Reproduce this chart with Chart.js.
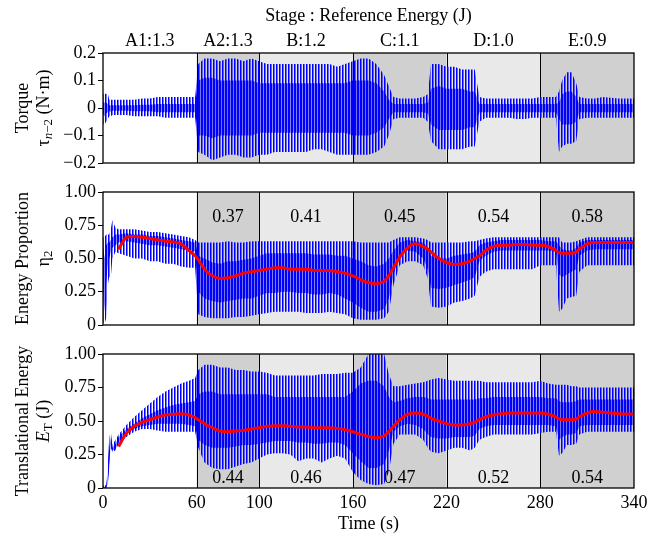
<!DOCTYPE html>
<html>
<head>
<meta charset="utf-8">
<script src="https://cdn.jsdelivr.net/npm/chart.js@4.4.1/dist/chart.umd.min.js"></script>
<style>
  html, body { margin: 0; padding: 0; background: #fff; }
  #wrap { position: relative; width: 665px; height: 538px; }
  #wrap canvas { position: absolute; left: 0; top: 0; }
</style>
</head>
<body>
<div id="wrap">
  <canvas id="torque" width="665" height="538"></canvas>
  <canvas id="proportion" width="665" height="538"></canvas>
  <canvas id="energy" width="665" height="538"></canvas>
</div>
<script>
// stages
const stageEdges = [0, 60, 100, 160, 220, 280, 340];
const stageLabels = ["A1:1.3", "A2:1.3", "B:1.2", "C:1.1", "D:1.0", "E:0.9"];
const stageShade = [null, "#d0d0d0", "#e9e9e9", "#d0d0d0", "#e9e9e9", "#d0d0d0"];
const propLabels = [null, "0.37", "0.41", "0.45", "0.54", "0.58"];
const energyLabels = [null, "0.44", "0.46", "0.47", "0.52", "0.54"];
const timeTicks = [0, 60, 100, 160, 220, 280, 340];

// sample times (s) for the envelopes
const time = [
  0, 1, 2, 3, 4, 5, 6, 8,
  10, 15, 20, 25, 30, 35, 40, 45, 50, 55, 59,
  61, 65, 70, 75, 80, 85, 90, 95, 100,
  105, 110, 115, 120, 125, 130, 135, 140, 145, 150, 155, 160,
  165, 170, 175, 180, 183, 186, 190, 195, 200, 205,
  208, 210, 215, 220, 225, 230, 235, 238, 241, 245,
  250, 255, 260, 265, 270, 275, 280, 285, 290, 292,
  294, 297, 300, 303, 305, 310, 315, 320, 330, 340
];

// torque: spike tops / bottoms and the dense core
const torqueHi = [
  0.05, 0.055, 0.05, 0.055, 0.03, 0.03, 0.03, 0.03,
  0.03, 0.03, 0.03, 0.035, 0.035, 0.04, 0.04, 0.04, 0.04, 0.04, 0.04,
  0.16, 0.18, 0.18, 0.17, 0.18, 0.18, 0.17, 0.18, 0.17,
  0.16, 0.16, 0.16, 0.16, 0.16, 0.16, 0.16, 0.16, 0.16, 0.15, 0.16, 0.17,
  0.18, 0.18, 0.16, 0.12, 0.08, 0.04, 0.035, 0.035, 0.035, 0.04,
  0.05, 0.16, 0.16, 0.15, 0.15, 0.14, 0.14, 0.14, 0.04, 0.035,
  0.035, 0.035, 0.035, 0.035, 0.035, 0.035, 0.04, 0.04, 0.04, 0.06,
  0.10, 0.13, 0.13, 0.09, 0.04, 0.035, 0.035, 0.04, 0.035, 0.035
];
const torqueLo = [
  -0.06, -0.06, -0.05, -0.04, -0.03, -0.03, -0.025, -0.025,
  -0.025, -0.025, -0.03, -0.03, -0.03, -0.03, -0.035, -0.035, -0.035, -0.035, -0.035,
  -0.16, -0.17, -0.19, -0.18, -0.17, -0.17, -0.18, -0.18, -0.17,
  -0.17, -0.16, -0.16, -0.16, -0.16, -0.16, -0.15, -0.15, -0.16, -0.17, -0.17, -0.17,
  -0.17, -0.17, -0.16, -0.14, -0.10, -0.04, -0.035, -0.035, -0.035, -0.035,
  -0.05, -0.12, -0.15, -0.15, -0.15, -0.15, -0.14, -0.14, -0.05, -0.035,
  -0.035, -0.035, -0.035, -0.04, -0.04, -0.035, -0.035, -0.035, -0.035, -0.16,
  -0.14, -0.13, -0.13, -0.12, -0.04, -0.035, -0.035, -0.035, -0.035, -0.035
];
const torqueCoreHi = [
  0.02, 0.02, 0.02, 0.015, 0.01, 0.01, 0.01, 0.01,
  0.01, 0.01, 0.01, 0.012, 0.012, 0.015, 0.015, 0.015, 0.015, 0.015, 0.015,
  0.10, 0.11, 0.11, 0.10, 0.10, 0.10, 0.10, 0.10, 0.09,
  0.09, 0.09, 0.09, 0.09, 0.09, 0.09, 0.09, 0.09, 0.09, 0.09, 0.09, 0.10,
  0.10, 0.10, 0.09, 0.06, 0.03, 0.015, 0.015, 0.015, 0.015, 0.015,
  0.02, 0.07, 0.08, 0.07, 0.07, 0.07, 0.06, 0.06, 0.015, 0.015,
  0.015, 0.015, 0.015, 0.015, 0.015, 0.015, 0.015, 0.015, 0.015, 0.02,
  0.05, 0.06, 0.06, 0.04, 0.015, 0.015, 0.015, 0.015, 0.015, 0.015
];
const torqueCoreLo = [
  -0.02, -0.03, -0.02, -0.015, -0.01, -0.015, -0.01, -0.01,
  -0.01, -0.01, -0.012, -0.012, -0.012, -0.015, -0.015, -0.015, -0.015, -0.015, -0.015,
  -0.10, -0.10, -0.11, -0.10, -0.10, -0.10, -0.10, -0.10, -0.09,
  -0.09, -0.09, -0.09, -0.09, -0.09, -0.09, -0.09, -0.09, -0.09, -0.09, -0.09, -0.10,
  -0.10, -0.10, -0.09, -0.07, -0.04, -0.015, -0.015, -0.015, -0.015, -0.015,
  -0.02, -0.06, -0.08, -0.08, -0.08, -0.08, -0.07, -0.07, -0.015, -0.015,
  -0.015, -0.015, -0.015, -0.015, -0.015, -0.015, -0.015, -0.015, -0.015, -0.04,
  -0.06, -0.06, -0.06, -0.05, -0.015, -0.015, -0.015, -0.015, -0.015, -0.015
];

// energy proportion eta_2
const propHi = [
  0.66, 0.66, 0.68, 0.68, 0.68, 0.72, 0.79, 0.73,
  0.72, 0.72, 0.72, 0.71, 0.70, 0.70, 0.69, 0.68, 0.67, 0.66, 0.64,
  0.62, 0.62, 0.62, 0.62, 0.63, 0.62, 0.62, 0.63, 0.63,
  0.63, 0.63, 0.63, 0.63, 0.63, 0.63, 0.63, 0.63, 0.63, 0.63, 0.63, 0.63,
  0.62, 0.62, 0.62, 0.62, 0.62, 0.64, 0.66, 0.66, 0.66, 0.65,
  0.64, 0.62, 0.62, 0.62, 0.62, 0.62, 0.63, 0.63, 0.64, 0.65,
  0.66, 0.66, 0.66, 0.66, 0.66, 0.66, 0.66, 0.66, 0.66, 0.66,
  0.62, 0.62, 0.62, 0.63, 0.64, 0.66, 0.66, 0.66, 0.66, 0.66
];
const propLo = [
  0.02, 0.01, 0.05, 0.30, 0.36, 0.36, 0.50, 0.55,
  0.54, 0.52, 0.50, 0.50, 0.48, 0.48, 0.46, 0.46, 0.44, 0.43, 0.43,
  0.08, 0.06, 0.05, 0.05, 0.05, 0.06, 0.06, 0.07, 0.08,
  0.09, 0.10, 0.10, 0.10, 0.10, 0.09, 0.09, 0.09, 0.10, 0.09, 0.08, 0.05,
  0.04, 0.04, 0.04, 0.05, 0.10, 0.30, 0.45, 0.48, 0.48, 0.45,
  0.35, 0.14, 0.13, 0.14, 0.17, 0.18, 0.20, 0.22, 0.36, 0.40,
  0.42, 0.42, 0.42, 0.42, 0.42, 0.42, 0.45, 0.45, 0.45, 0.10,
  0.12, 0.20, 0.21, 0.22, 0.40, 0.45, 0.45, 0.45, 0.45, 0.45
];
const propCoreHi = [
  0.60, 0.50, 0.60, 0.62, 0.62, 0.64, 0.66, 0.68,
  0.68, 0.69, 0.68, 0.68, 0.67, 0.67, 0.66, 0.65, 0.64, 0.63, 0.62,
  0.52, 0.50, 0.47, 0.46, 0.48, 0.48, 0.49, 0.50, 0.52,
  0.54, 0.54, 0.54, 0.54, 0.54, 0.54, 0.53, 0.53, 0.53, 0.52, 0.52, 0.50,
  0.48, 0.45, 0.44, 0.46, 0.50, 0.56, 0.62, 0.64, 0.63, 0.62,
  0.58, 0.52, 0.50, 0.50, 0.52, 0.53, 0.54, 0.55, 0.60, 0.62,
  0.63, 0.64, 0.64, 0.64, 0.64, 0.64, 0.64, 0.63, 0.63, 0.60,
  0.57, 0.56, 0.56, 0.58, 0.62, 0.64, 0.64, 0.64, 0.64, 0.64
];
const propCoreLo = [
  0.30, 0.10, 0.30, 0.45, 0.50, 0.55, 0.58, 0.60,
  0.62, 0.63, 0.62, 0.61, 0.60, 0.60, 0.59, 0.58, 0.57, 0.56, 0.55,
  0.25, 0.20, 0.18, 0.17, 0.18, 0.19, 0.20, 0.20, 0.22,
  0.24, 0.24, 0.25, 0.25, 0.24, 0.24, 0.23, 0.23, 0.24, 0.23, 0.20, 0.17,
  0.13, 0.10, 0.10, 0.12, 0.20, 0.38, 0.52, 0.56, 0.55, 0.50,
  0.42, 0.28, 0.27, 0.28, 0.30, 0.32, 0.34, 0.36, 0.48, 0.52,
  0.55, 0.56, 0.56, 0.56, 0.56, 0.56, 0.56, 0.56, 0.55, 0.38,
  0.36, 0.38, 0.40, 0.42, 0.52, 0.56, 0.57, 0.57, 0.57, 0.57
];
const propMean = [
  null, null, null, null, null, null, null, null,
  0.57, 0.66, 0.665, 0.66, 0.65, 0.64, 0.63, 0.625, 0.61, 0.56, 0.52,
  0.49, 0.42, 0.37, 0.35, 0.355, 0.37, 0.39, 0.40, 0.41,
  0.42, 0.43, 0.43, 0.42, 0.42, 0.42, 0.41, 0.41, 0.41, 0.40, 0.39, 0.37,
  0.34, 0.32, 0.31, 0.33, 0.37, 0.43, 0.51, 0.58, 0.61, 0.59,
  0.57, 0.55, 0.50, 0.47, 0.455, 0.46, 0.48, 0.50, 0.52, 0.56,
  0.59, 0.60, 0.60, 0.605, 0.605, 0.60, 0.60, 0.59, 0.56, 0.545,
  0.54, 0.54, 0.54, 0.55, 0.57, 0.61, 0.62, 0.62, 0.62, 0.62
];

// translational energy E_T (J)
const energyHi = [
  0.02, 0.02, 0.02, 0.15, 0.38, 0.42, 0.32, 0.36,
  0.40, 0.47, 0.53, 0.58, 0.63, 0.68, 0.72, 0.75, 0.78, 0.80, 0.82,
  0.88, 0.92, 0.92, 0.90, 0.90, 0.88, 0.88, 0.87, 0.87,
  0.86, 0.84, 0.84, 0.84, 0.84, 0.84, 0.84, 0.85, 0.85, 0.85, 0.86, 0.86,
  0.90, 1.00, 1.00, 1.00, 0.85, 0.76, 0.76, 0.77, 0.78, 0.79,
  0.80, 0.81, 0.82, 0.81, 0.80, 0.80, 0.80, 0.80, 0.80, 0.79,
  0.79, 0.79, 0.79, 0.79, 0.79, 0.79, 0.80, 0.78, 0.77, 0.77,
  0.77, 0.77, 0.76, 0.76, 0.75, 0.75, 0.75, 0.75, 0.75, 0.75
];
const energyLo = [
  0.00, 0.00, 0.00, 0.02, 0.15, 0.30, 0.27, 0.28,
  0.33, 0.38, 0.42, 0.44, 0.44, 0.43, 0.42, 0.42, 0.42, 0.42, 0.42,
  0.30, 0.19, 0.15, 0.14, 0.14, 0.16, 0.18, 0.19, 0.22,
  0.25, 0.26, 0.26, 0.25, 0.20, 0.22, 0.22, 0.19, 0.22, 0.24, 0.22, 0.12,
  0.06, 0.03, 0.02, 0.03, 0.12, 0.33, 0.40, 0.40, 0.40, 0.36,
  0.30, 0.27, 0.26, 0.28, 0.30, 0.30, 0.28, 0.30, 0.36, 0.38,
  0.40, 0.40, 0.40, 0.40, 0.40, 0.40, 0.41, 0.42, 0.42, 0.24,
  0.26, 0.32, 0.32, 0.33, 0.40, 0.42, 0.42, 0.42, 0.42, 0.42
];
const energyCoreHi = [
  0.01, 0.01, 0.01, 0.10, 0.30, 0.38, 0.30, 0.33,
  0.38, 0.44, 0.48, 0.52, 0.55, 0.58, 0.60, 0.62, 0.63, 0.64, 0.65,
  0.70, 0.72, 0.72, 0.70, 0.70, 0.70, 0.70, 0.70, 0.70,
  0.70, 0.68, 0.68, 0.68, 0.68, 0.68, 0.68, 0.68, 0.68, 0.68, 0.68, 0.72,
  0.78, 0.80, 0.80, 0.76, 0.68, 0.64, 0.65, 0.67, 0.68, 0.68,
  0.67, 0.66, 0.66, 0.66, 0.66, 0.66, 0.66, 0.66, 0.67, 0.67,
  0.68, 0.68, 0.68, 0.68, 0.68, 0.68, 0.68, 0.67, 0.67, 0.65,
  0.64, 0.64, 0.64, 0.65, 0.66, 0.66, 0.66, 0.66, 0.66, 0.66
];
const energyCoreLo = [
  0.00, 0.00, 0.00, 0.03, 0.20, 0.32, 0.28, 0.29,
  0.34, 0.40, 0.44, 0.46, 0.47, 0.48, 0.48, 0.48, 0.48, 0.47, 0.46,
  0.36, 0.32, 0.30, 0.30, 0.30, 0.31, 0.32, 0.32, 0.33,
  0.34, 0.35, 0.35, 0.35, 0.34, 0.34, 0.33, 0.33, 0.34, 0.34, 0.32, 0.26,
  0.20, 0.15, 0.15, 0.18, 0.28, 0.42, 0.46, 0.48, 0.47, 0.44,
  0.40, 0.38, 0.37, 0.37, 0.38, 0.38, 0.38, 0.39, 0.44, 0.46,
  0.47, 0.47, 0.47, 0.47, 0.47, 0.47, 0.47, 0.47, 0.46, 0.36,
  0.38, 0.40, 0.40, 0.41, 0.46, 0.47, 0.47, 0.47, 0.47, 0.47
];
const energyMean = [
  null, null, null, null, null, null, null, null,
  0.31, 0.41, 0.46, 0.49, 0.51, 0.53, 0.545, 0.55, 0.555, 0.545, 0.525,
  0.51, 0.48, 0.45, 0.425, 0.42, 0.425, 0.43, 0.44, 0.45,
  0.46, 0.465, 0.465, 0.46, 0.455, 0.455, 0.45, 0.45, 0.45, 0.445, 0.435, 0.42,
  0.40, 0.385, 0.375, 0.39, 0.42, 0.46, 0.51, 0.55, 0.56, 0.55,
  0.535, 0.52, 0.50, 0.48, 0.47, 0.47, 0.48, 0.49, 0.51, 0.53,
  0.545, 0.555, 0.56, 0.56, 0.56, 0.56, 0.56, 0.55, 0.53, 0.515,
  0.51, 0.51, 0.51, 0.515, 0.53, 0.56, 0.57, 0.565, 0.555, 0.55
];

const FONT = "'Liberation Serif', 'Times New Roman', serif";
const font18 = { family: FONT, size: 18 };
const stageMid = stageEdges.slice(0, -1).map((t, i) => (t + stageEdges[i + 1]) / 2);

Chart.defaults.font.family = FONT;
Chart.defaults.color = "#000";

// vertical-stripe fills give the spiky look of the oscillation
function stripes(alphas) {
  const c = document.createElement("canvas");
  c.width = alphas.length; c.height = 1;
  const g = c.getContext("2d");
  alphas.forEach((a, i) => {
    g.fillStyle = `rgba(0,0,255,${a})`;
    g.fillRect(i, 0, 1, 1);
  });
  return g.createPattern(c, "repeat");
}
const spike = stripes([1, 0.55, 0]);
const dense = stripes([1, 1, 0.45]);

const pts = arr => time.map((t, i) => ({ x: t, y: arr[i] })).filter(p => p.y !== null);

function bandSets(hi, lo, cHi, cLo, mean) {
  const base = { pointRadius: 0, borderWidth: 0, tension: 0 };
  const sets = [
    { ...base, data: pts(lo), fill: false, order: 5 },
    { ...base, data: pts(hi), fill: 0, backgroundColor: spike, order: 4 },
    { ...base, data: pts(cLo), fill: false, order: 3 },
    { ...base, data: pts(cHi), fill: 2, backgroundColor: dense, order: 2 }
  ];
  if (mean) {
    sets.push({ data: pts(mean), fill: false, borderColor: "#ff0000", borderWidth: 3,
      pointRadius: 0, cubicInterpolationMode: "monotone", order: 1 });
  }
  return sets;
}

// draws one rotated title line made of plain / italic / subscript parts
function richLine(ctx, parts, cx, cy) {
  const fnt = p => `${p.italic ? "italic " : ""}${p.sub ? 13 : 18}px ${FONT}`;
  let w = 0;
  parts.forEach(p => { ctx.font = fnt(p); w += ctx.measureText(p.t).width; });
  ctx.save();
  ctx.translate(cx, cy);
  ctx.rotate(-Math.PI / 2);
  ctx.textBaseline = "middle";
  ctx.textAlign = "left";
  ctx.fillStyle = "#000";
  let x = -w / 2;
  parts.forEach(p => {
    ctx.font = fnt(p);
    ctx.fillText(p.t, x, p.sub ? 5 : 0);
    x += ctx.measureText(p.t).width;
  });
  ctx.restore();
}

const panel = cfg => ({
  id: "panel",
  beforeDatasetsDraw(chart) {
    const { ctx, chartArea: a, scales: { x } } = chart;
    ctx.save();
    stageShade.forEach((c, i) => {
      if (!c) return;
      const x0 = x.getPixelForValue(stageEdges[i]), x1 = x.getPixelForValue(stageEdges[i + 1]);
      ctx.fillStyle = c;
      ctx.fillRect(x0, a.top, x1 - x0, a.bottom - a.top);
    });
    ctx.strokeStyle = "#000";
    ctx.lineWidth = 1;
    stageEdges.slice(1, -1).forEach(t => {
      const px = Math.round(x.getPixelForValue(t)) + 0.5;
      ctx.beginPath(); ctx.moveTo(px, a.top); ctx.lineTo(px, a.bottom); ctx.stroke();
    });
    ctx.restore();
  },
  afterDatasetsDraw(chart) {
    const { ctx, chartArea: a, scales: { x, y } } = chart;
    ctx.save();
    if (cfg.labels) {
      ctx.font = `18px ${FONT}`;
      ctx.fillStyle = "#000";
      ctx.textAlign = "center";
      ctx.textBaseline = "middle";
      cfg.labels.forEach((s, i) => {
        if (s) ctx.fillText(s, x.getPixelForValue(stageMid[i]), y.getPixelForValue(cfg.labelAt));
      });
    }
    ctx.strokeStyle = "#000";
    ctx.lineWidth = 1.3;
    ctx.strokeRect(a.left, a.top, a.right - a.left, a.bottom - a.top);
    ctx.restore();
  },
  afterDraw(chart) {
    const { ctx, chartArea: a } = chart;
    const cy = (a.top + a.bottom) / 2;
    richLine(ctx, cfg.title1, 23, cy);
    richLine(ctx, cfg.title2, 44, cy);
  }
});

function yAxis(min, max, ticks, fmt) {
  return {
    min, max,
    afterFit: s => { s.width = 103; },
    afterBuildTicks: s => { s.ticks = ticks.map(v => ({ value: v })); },
    ticks: { font: font18, color: "#000", padding: 2, callback: fmt },
    grid: { display: true, drawOnChartArea: false, drawTicks: true, tickLength: 5, color: "#000" },
    border: { display: false }
  };
}

const common = {
  responsive: false,
  animation: false,
  events: [],
  devicePixelRatio: 1
};
const noPlug = { legend: { display: false }, tooltip: { enabled: false } };

// top: torque
new Chart(document.getElementById("torque"), {
  type: "line",
  data: { datasets: bandSets(torqueHi, torqueLo, torqueCoreHi, torqueCoreLo, null) },
  options: {
    ...common,
    layout: { padding: { left: 0, right: 31, top: 0, bottom: 375 } },
    plugins: noPlug,
    scales: {
      x: {
        type: "linear", position: "top", min: 0, max: 340,
        afterFit: s => { s.height = 53; },
        afterBuildTicks: s => { s.ticks = stageMid.map(v => ({ value: v })); },
        ticks: { autoSkip: false, maxRotation: 0, padding: 1, font: font18, color: "#000",
          callback: (v, i) => stageLabels[i] },
        grid: { display: false, drawTicks: false },
        border: { display: false },
        title: { display: true, text: "Stage : Reference Energy (J)", font: font18, color: "#000",
          padding: { top: 5, bottom: 0 } }
      },
      y: yAxis(-0.2, 0.2, [-0.2, -0.1, 0, 0.1, 0.2],
        v => Math.abs(v) < 1e-9 ? "0" : v.toFixed(1).replace("-", "\u2212"))
    }
  },
  plugins: [panel({
    title1: [{ t: "Torque" }],
    title2: [{ t: "\u03c4" }, { t: "n", sub: true, italic: true }, { t: "\u22122", sub: true }, { t: " (N\u00b7m)" }]
  })]
});

const fmt01 = v => v === 0 ? "0" : v.toFixed(2);

// middle: energy proportion
new Chart(document.getElementById("proportion"), {
  type: "line",
  data: { datasets: bandSets(propHi, propLo, propCoreHi, propCoreLo, propMean) },
  options: {
    ...common,
    layout: { padding: { left: 0, right: 31, top: 192, bottom: 213 } },
    plugins: noPlug,
    scales: {
      x: { type: "linear", min: 0, max: 340, display: false },
      y: yAxis(0, 1, [0, 0.25, 0.5, 0.75, 1], fmt01)
    }
  },
  plugins: [panel({
    labels: propLabels, labelAt: 0.81,
    title1: [{ t: "Energy Proportion" }],
    title2: [{ t: "\u03b7" }, { t: "2", sub: true }]
  })]
});

// bottom: translational energy
new Chart(document.getElementById("energy"), {
  type: "line",
  data: { datasets: bandSets(energyHi, energyLo, energyCoreHi, energyCoreLo, energyMean) },
  options: {
    ...common,
    layout: { padding: { left: 0, right: 31, top: 354, bottom: 0 } },
    plugins: noPlug,
    scales: {
      x: {
        type: "linear", position: "bottom", min: 0, max: 340,
        afterFit: s => { s.height = 50; },
        afterBuildTicks: s => { s.ticks = timeTicks.map(v => ({ value: v })); },
        ticks: { autoSkip: false, maxRotation: 0, padding: 4, font: font18, color: "#000" },
        grid: { display: false, drawTicks: false },
        border: { display: false },
        title: { display: true, text: "Time (s)", font: font18, color: "#000",
          padding: { top: 0, bottom: 3 } }
      },
      y: yAxis(0, 1, [0, 0.25, 0.5, 0.75, 1], fmt01)
    }
  },
  plugins: [panel({
    labels: energyLabels, labelAt: 0.075,
    title1: [{ t: "Translational Energy" }],
    title2: [{ t: "E", italic: true }, { t: "T", sub: true }, { t: " (J)" }]
  })]
});
</script>
</body>
</html>
